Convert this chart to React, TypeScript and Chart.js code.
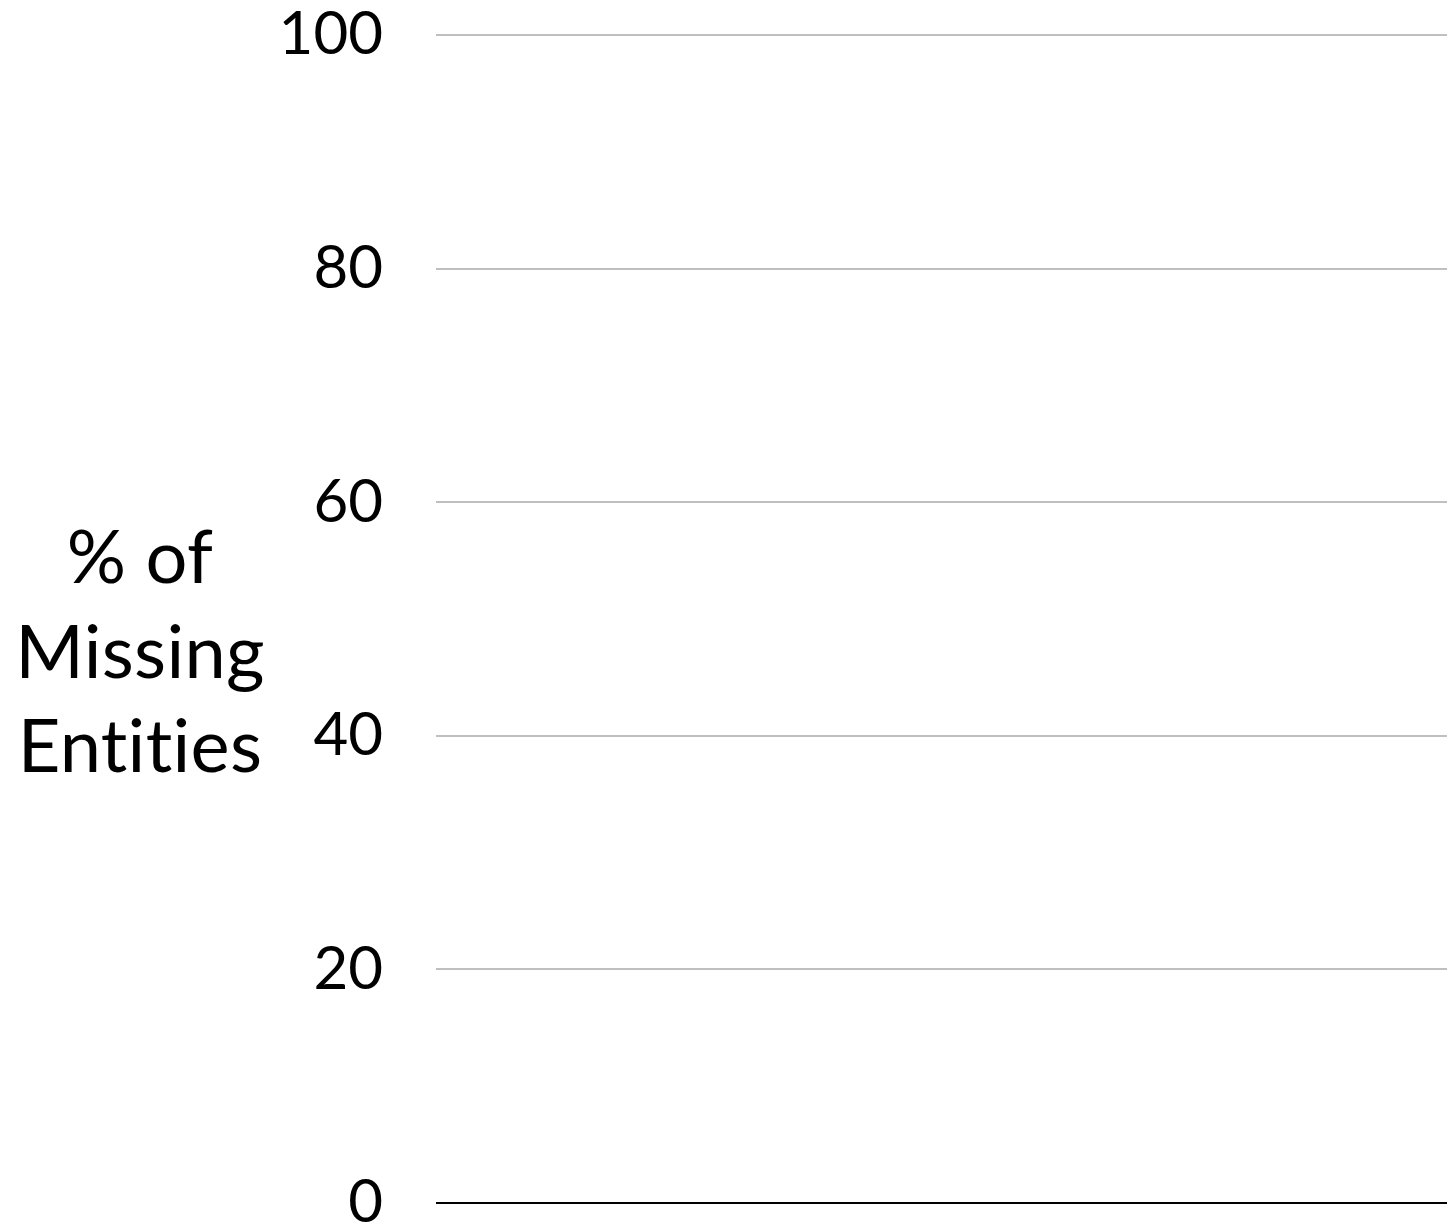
import React, { useEffect, useRef } from "react";
import { Chart, registerables } from "chart.js";

Chart.register(...registerables);

// Data (the reference chart shows an empty plot: no bars / points)
const categories: string[] = [];
const missingEntitiesPct: number[] = [];
const yTickValues = [0, 20, 40, 60, 80, 100];
const yTitleLines = ["% of", "Missing", "Entities"];

const FONT = "Lato, 'Open Sans', 'DejaVu Sans', sans-serif";

const sideTitlePlugin = {
  id: "sideTitle",
  afterDraw(chart: any) {
    const ctx = chart.ctx as any;
    ctx.save();
    ctx.fillStyle = "#000";
    ctx.font = `74px ${FONT}`;
    ctx.textAlign = "center";
    ctx.textBaseline = "alphabetic";
    // non-zero letter spacing turns off the "ti" ligature
    if ("letterSpacing" in ctx) ctx.letterSpacing = "0.3px";
    const x = 140;
    const baselines = [583, 678, 772];
    yTitleLines.forEach((line, i) => ctx.fillText(line, x, baselines[i]));
    ctx.restore();
  },
};

export default function App() {
  const ref = useRef<HTMLCanvasElement | null>(null);

  useEffect(() => {
    document.body.style.margin = "0";
    const canvas = ref.current!;
    const chart = new Chart(canvas, {
      type: "bar",
      data: {
        labels: categories,
        datasets: [
          {
            label: "% of Missing Entities",
            data: missingEntitiesPct,
            backgroundColor: "#4472c4",
          },
        ],
      },
      options: {
        responsive: false,
        animation: false,
        layout: { padding: { top: 35, bottom: 26, left: 0, right: 0 } },
        plugins: {
          legend: { display: false },
          tooltip: { enabled: false },
          title: { display: false },
        },
        scales: {
          x: { display: false },
          y: {
            min: 0,
            max: 100,
            afterBuildTicks(scale: any) {
              scale.ticks = yTickValues.map((v) => ({ value: v }));
            },
            afterFit(scale: any) {
              scale.width = 436;
              scale.paddingTop = 0;
              scale.paddingBottom = 0;
            },
            border: { display: false },
            grid: {
              drawTicks: false,
              lineWidth: 2,
              color: (c: any) => (c.tick && c.tick.value === 0 ? "#000000" : "#bfbfbf"),
            },
            ticks: {
              padding: 53,
              color: "#000",
              font: { family: FONT, size: 60 },
              callback: (v: any) => String(v),
            },
          },
        },
      },
      plugins: [sideTitlePlugin],
    });
    return () => chart.destroy();
  }, []);

  return (
    <div style={{ position: "absolute", left: 0, top: 0, width: 1447, height: 1229, background: "#fff" }}>
      <canvas ref={ref} width={1447} height={1229} style={{ display: "block" }} />
    </div>
  );
}
